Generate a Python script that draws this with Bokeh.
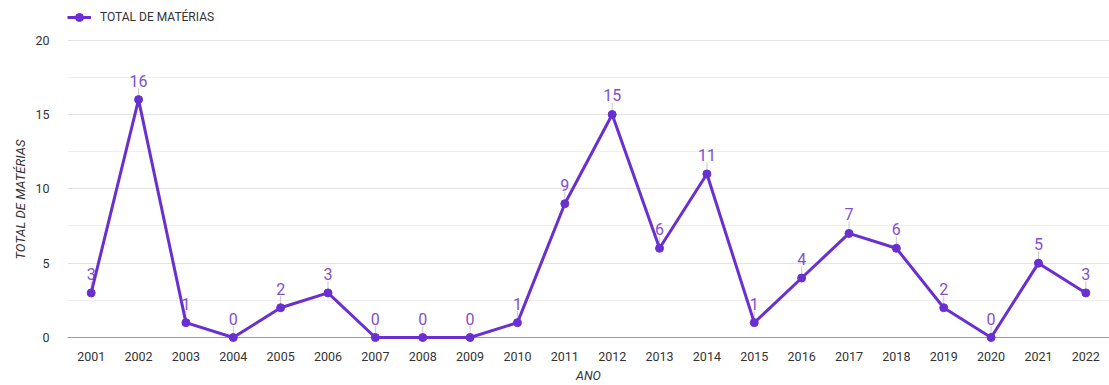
from bokeh.plotting import figure
from bokeh.models import (ColumnDataSource, FactorRange, Range1d, FixedTicker, Legend, LegendItem,
                          LabelSet, Title)
from bokeh.core.properties import value
from bokeh.embed import file_html
from bokeh.resources import INLINE

years = [str(y) for y in range(2001, 2023)]
totals = [3, 16, 1, 0, 2, 3, 0, 0, 0, 1, 9, 15, 6, 11, 1, 4, 7, 6, 2, 0, 5, 3]
y_ticks = [0, 5, 10, 15, 20]
y_minor = [2.5, 7.5, 12.5, 17.5]
series_name = "TOTAL DE MATÉRIAS"
x_title = "ANO"
y_title = "TOTAL DE MATÉRIAS"

LINE = "#6a2fd1"
LABEL = "#8150cc"
FONT = "Roboto"

src = ColumnDataSource(dict(
    x=years, y=totals, lbl=[str(v) for v in totals],
    y0=[v + 0.22 for v in totals], y1=[v + 0.78 for v in totals],
))

p = figure(width=1109, height=385, x_range=FactorRange(factors=years, range_padding=0),
           y_range=Range1d(0, 22.33), output_backend="svg", toolbar_location=None,
           min_border_left=67, min_border_right=0, min_border_top=5, min_border_bottom=45)
p.outline_line_color = None
p.background_fill_color = "white"
p.border_fill_color = "white"

p.yaxis.ticker = FixedTicker(ticks=y_ticks, minor_ticks=y_minor)
p.ygrid.grid_line_color = "#e3e3e3"
p.ygrid.grid_line_width = 1
p.ygrid.minor_grid_line_color = "#eeeeee"
p.xgrid.grid_line_color = None

for ax in (p.xaxis, p.yaxis):
    ax.major_tick_line_color = None
    ax.minor_tick_line_color = None
    ax.major_label_text_font = FONT
    ax.major_label_text_font_size = "12.5px"
    ax.major_label_text_color = "#333333"
    ax.axis_label_text_font = FONT
    ax.axis_label_text_font_size = "12.5px"
    ax.axis_label_text_font_style = "italic"
    ax.axis_label_text_color = "#333333"
p.yaxis.axis_line_color = None
p.xaxis.axis_line_color = "#9a9a9a"
p.xaxis.axis_line_width = 1
p.xaxis.major_label_standoff = 8
p.yaxis.major_label_standoff = 12
p.xaxis.axis_label = x_title
p.xaxis.axis_label_standoff = 4

ytitle = Title(text=y_title, align="left", offset=78, text_font=FONT, text_font_size="13px",
               text_font_style="italic", text_color="#333333", standoff=10)
p.add_layout(ytitle, "left")

p.segment(x0="x", y0="y0", x1="x", y1="y1", source=src, line_color="#c8c8c8", line_width=1)
ln = p.line("x", "y", source=src, line_color=LINE, line_width=3, level="overlay")
sc = p.scatter("x", "y", source=src, size=8, fill_color=LINE, line_color=LINE, level="overlay")

labels = LabelSet(x="x", y="y", text="lbl", source=src, y_offset=13, text_align="center",
                  text_baseline="bottom", text_font=value(FONT), text_font_size=value("16px"),
                  text_color=LABEL)
p.add_layout(labels)

legend = Legend(items=[LegendItem(label=series_name, renderers=[ln, sc])], location=(0, 310),
                orientation="horizontal", padding=0, margin=0, border_line_color=None,
                background_fill_alpha=0, glyph_width=24, glyph_height=20, label_standoff=9,
                label_text_font=FONT, label_text_font_size="12px", label_text_color="#333333")
p.add_layout(legend)

open("out.html", "w").write(file_html(p, INLINE))
